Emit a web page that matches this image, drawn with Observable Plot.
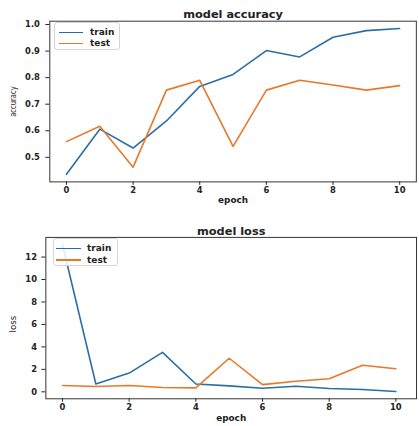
<!DOCTYPE html>
<html><head><meta charset="utf-8">
<script src="https://cdn.jsdelivr.net/npm/d3@7"></script>
<script src="https://cdn.jsdelivr.net/npm/@observablehq/plot@0.6"></script>
<style>
html,body{margin:0;padding:0;background:#fff;overflow:hidden;width:419px;height:426px}
#wrap{position:relative;width:419px;height:426px;overflow:hidden}
#top,#bot{position:absolute;left:0}
#top{top:0}
#bot{top:210px}
.legend{position:absolute;border:1px solid #d4d4d4;border-radius:3px;background:rgba(255,255,255,0.85);font:bold 9px "DejaVu Sans",sans-serif;color:#222;box-sizing:border-box}
.legend .ln{position:absolute;height:1.6px}
.legend .tx{position:absolute;line-height:10px}
</style>
</head><body>
<div id="wrap"><div id="top"></div><div id="bot"></div></div>
<script>
// data
const epochs = [0,1,2,3,4,5,6,7,8,9,10];
const accTrain = [0.436,0.606,0.535,0.637,0.767,0.812,0.902,0.878,0.952,0.977,0.985];
const accTest  = [0.559,0.617,0.463,0.753,0.790,0.541,0.753,0.790,0.772,0.753,0.770];
const lossTrain = [13.1,0.70,1.67,3.51,0.70,0.53,0.32,0.50,0.29,0.20,0.03];
const lossTest  = [0.56,0.47,0.56,0.38,0.35,2.99,0.64,0.94,1.17,2.37,2.05];
const xTicks = [0,2,4,6,8,10];
const accTicks = [0.5,0.6,0.7,0.8,0.9,1.0];
const lossTicks = [0,2,4,6,8,10,12];
const seriesNames = ["train","test"];
const colors = ["#2a6ea6","#e8772a"];

const FONT = '"DejaVu Sans", sans-serif';

function makeChart(o) {
  const svg = Plot.plot({
    width: 425, height: o.height,
    marginLeft: o.ml, marginRight: o.mr, marginTop: o.mt, marginBottom: o.mb,
    style: {fontFamily: FONT, fontSize: "8.5px", fontWeight: "bold", color: "#222", background: "transparent", overflow: "visible"},
    x: {domain: o.xDomain},
    y: {domain: o.yDomain},
    marks: [
      Plot.frame({stroke: "#333", strokeWidth: 1}),
      Plot.axisX(xTicks, {tickSize: 3.5, tickPadding: 2, label: null, tickFormat: d => String(d)}),
      Plot.axisY(o.yTicks, {tickSize: 4, tickPadding: o.ypad, label: null, tickFormat: o.yFmt}),
      Plot.line(o.train, {x: (d, i) => epochs[i], y: d => d, stroke: colors[0], strokeWidth: 1.6}),
      Plot.line(o.test, {x: (d, i) => epochs[i], y: d => d, stroke: colors[1], strokeWidth: 1.6}),
      Plot.text([o.title], {frameAnchor: "top", dy: o.titleDy, lineAnchor: "middle", fontSize: 11.5, fontWeight: "bold", fill: "#222"}),
      Plot.text(["epoch"], {frameAnchor: "bottom", dy: o.epochDy, lineAnchor: "middle", fontSize: 9, fontWeight: "bold", fill: "#222"}),
      Plot.text([o.ylabel], {frameAnchor: "left", dx: o.ylabDx, dy: o.ylabDy, rotate: -90, textAnchor: "middle", lineAnchor: "middle", fontSize: 9, fontWeight: "normal", fill: "#222"})
    ]
  });
  svg.querySelectorAll("text").forEach(t => {
    if (t.textContent === o.ylabel) {
      t.setAttribute("textLength", o.ylabLen);
      t.setAttribute("lengthAdjust", "spacingAndGlyphs");
    }
  });
  return svg;
}

document.getElementById("top").appendChild(makeChart({
  height: 210, ml: 50, mr: 3.2, mt: 21, mb: 26,
  xDomain: [-0.5, 10.5], yDomain: [0.4075, 1.0125],
  yTicks: accTicks, yFmt: d3.format(".1f"), ypad: 6,
  train: accTrain, test: accTest,
  title: "model accuracy", titleDy: -7, epochDy: 19,
  ylabel: "accuracy", ylabDx: -37, ylabDy: 0, ylabLen: 31
}));
document.getElementById("bot").appendChild(makeChart({
  height: 216, ml: 46, mr: 3, mt: 27.3, mb: 25,
  xDomain: [-0.5, 10.62], yDomain: [-0.62, 13.75],
  yTicks: lossTicks, yFmt: d => String(d), ypad: 5,
  train: lossTrain, test: lossTest,
  title: "model loss", titleDy: -6.6, epochDy: 19.7,
  ylabel: "loss", ylabDx: -33, ylabDy: 6, ylabLen: 17
}));

function legend(left, top, w, h, lx0, lx1, ly, tx) {
  const box = document.createElement("div");
  box.className = "legend";
  Object.assign(box.style, {left: left + "px", top: top + "px", width: w + "px", height: h + "px"});
  seriesNames.forEach((name, i) => {
    const ln = document.createElement("div");
    ln.className = "ln";
    Object.assign(ln.style, {left: lx0 + "px", width: (lx1 - lx0) + "px", top: (ly[i] - 0.8) + "px", background: colors[i]});
    const t = document.createElement("div");
    t.className = "tx";
    t.textContent = name;
    Object.assign(t.style, {left: tx + "px", top: (ly[i] - 5.5) + "px"});
    box.appendChild(ln); box.appendChild(t);
  });
  document.getElementById("wrap").appendChild(box);
}
legend(54, 22, 66, 28, 4, 28, [9.5, 20.7], 35);
legend(53, 238, 65, 28, 2, 27, [9.5, 21], 33);
</script>
</body></html>
